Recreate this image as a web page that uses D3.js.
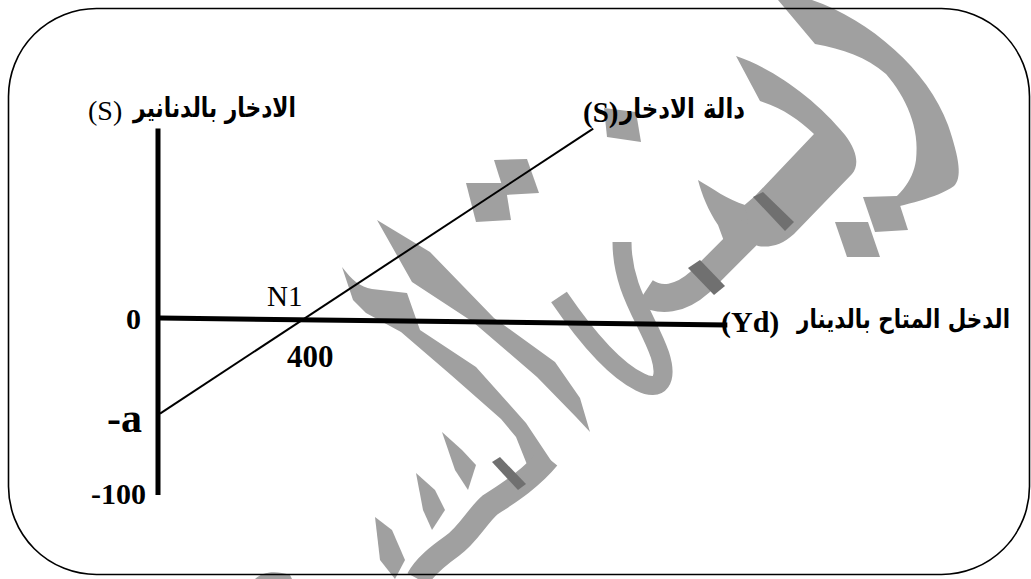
<!DOCTYPE html>
<html><head><meta charset="utf-8">
<script src="https://cdn.jsdelivr.net/npm/d3@7"></script>
<style>
html,body{margin:0;padding:0;background:#fff;}
svg{display:block;}
</style></head>
<body>
<svg id="chart" width="1031" height="579"></svg>
<script>
// ---- data ----
const savingsYd = [0, 1195];          // disposable income (dinars)
const savingsS = [-54, 107];          // savings function values
const incomeAxisYd = [0, 1565];
const incomeAxisS = [0, -4];
const savingsAxisS = [-100, 107];
const yTickValues = [0, -54, -100];
const yTickLabels = ["0", "-a", "-100"];
const xTickValues = [400];
const xTickLabels = ["400"];
const pointLabel = "N1";
const yTitleAr = "الادخار بالدنانير";
const yTitleSym = "(S)";
const lineTitleAr = "دالة الادخار";
const lineTitleSym = "(S)";
const xTitleAr = "الدخل المتاح بالدينار";
const xTitleSym = "(Yd)";

// decorative watermark outlines (background calligraphy)
const watermarkShapes = [
  "M778,0 L812,0 C870,20 928,70 948,125 C960,160 962,178 954,186 C937,198 905,205 878,211 C898,198 913,182 916,160 C920,128 906,97 886,74 C866,57 843,49 815,44 Z",
  "M863,197 L897,196 L908,230 L875,232 Z",
  "M835,222 L868,222 L880,257 L847,257 Z",
  "M736,56 C772,68 815,98 845,135 C858,152 859,166 852,174 L794,234 C782,245 770,248 758,246 L742,238 L733,215 L755,196 L814,134 C798,119 784,109 760,101 Z",
  "M698,180 C712,188 728,200 745,205 L750,238 L728,252 L718,225 C708,210 702,195 698,180 Z",
  "M604,108 L636,112 L641,142 L607,137 Z",
  "M494,160 L527,159 L539,193 L505,195 Z",
  "M466,183 L505,183 L511,220 L476,222 Z",
  "M377,220 L430,252 L494,318 L555,362 L580,398 L590,432 L576,417 L537,377 L473,322 L412,282 Z",
  "M342,267 C352,280 360,287 372,289 L407,293 L420,330 L476,367 L526,423 L552,462 L530,472 L516,437 L501,419 L451,375 L401,332 L366,313 L353,300 Z",
  "M442,432 L462,450 L476,465 L468,490 L455,470 Z",
  "M416,473 L435,490 L445,510 L432,530 L423,510 Z",
  "M375,517 L392,530 L405,560 L395,579 L380,560 Z",
  "M255,579 C262,572 275,570 290,575 L292,579 Z"
];
const watermarkStrokes = [
  {d: "M752,230 L700,282 C680,300 660,302 645,292", w: 28},
  {d: "M622,242 C622,290 648,320 660,355 C668,380 660,392 640,382 C615,370 585,335 559,297", w: 19},
  {d: "M548,458 C530,480 505,495 490,505 C478,515 468,535 452,546 C438,556 425,566 418,579", w: 24}
];
const darkBands = [
  "M753,197 L763,192 L794,222 L785,231 Z",
  "M688,268 L700,260 L725,286 L714,295 Z",
  "M492,462 L500,457 L526,484 L518,490 Z"
];

// ---- drawing ----
const svg = d3.select("#chart");
const x = d3.scaleLinear().domain([0, 400]).range([160, 305]);
const y = d3.scaleLinear().domain([-100, 0]).range([495, 318]);

// watermark
const wm = svg.append("g");
wm.selectAll("path.shape").data(watermarkShapes).join("path")
  .attr("class","shape").attr("d", d => d).attr("fill", "#a0a0a0");
wm.selectAll("path.stk").data(watermarkStrokes).join("path")
  .attr("class","stk").attr("d", d => d.d).attr("fill","none")
  .attr("stroke","#a0a0a0").attr("stroke-width", d => d.w).attr("stroke-linecap","butt");
wm.selectAll("path.band").data(darkBands).join("path")
  .attr("class","band").attr("d", d => d).attr("fill", "#707070");

// frame
svg.append("rect").attr("x", 8.5).attr("y", 8.5).attr("width", 1021).attr("height", 566)
  .attr("rx", 88).attr("ry", 88).attr("fill", "none").attr("stroke", "#000").attr("stroke-width", 1.6);

const line = d3.line().x(d => x(d[0])).y(d => y(d[1]));

// vertical (savings) axis
svg.append("path")
  .attr("d", d3.line().x(d => x(0) - 2).y(d => y(d))(savingsAxisS))
  .attr("stroke", "#000").attr("stroke-width", 5).attr("fill", "none");

// horizontal (income) axis
svg.append("path")
  .attr("d", line(d3.zip(incomeAxisYd, incomeAxisS)))
  .attr("stroke", "#000").attr("stroke-width", 5).attr("fill", "none");

// savings function
svg.append("path")
  .attr("d", line(d3.zip(savingsYd, savingsS)))
  .attr("stroke", "#000").attr("stroke-width", 2).attr("fill", "none");

const serif = "'Liberation Serif','Times New Roman',serif";
const arab = "'DejaVu Sans',sans-serif";

// y tick labels
const yLabelStyle = [
  {dx: -19, dy: 11, size: 30},
  {dx: -18, dy: 18, size: 42},
  {dx: -14, dy: 9, size: 30}
];
svg.selectAll("text.ytick").data(yTickValues).join("text")
  .attr("class","ytick")
  .attr("x", (d,i) => x(0) + yLabelStyle[i].dx)
  .attr("y", (d,i) => y(d) + yLabelStyle[i].dy)
  .attr("text-anchor","end")
  .attr("font-family", serif).attr("font-weight","bold")
  .attr("font-size", (d,i) => yLabelStyle[i].size)
  .text((d,i) => yTickLabels[i]);

// x tick label
svg.selectAll("text.xtick").data(xTickValues).join("text")
  .attr("class","xtick")
  .attr("x", d => x(d) - 18).attr("y", y(0) + 49)
  .attr("font-family", serif).attr("font-weight","bold").attr("font-size", 31)
  .text((d,i) => xTickLabels[i]);

// N1 point label
svg.append("text")
  .attr("x", x(400) - 38).attr("y", y(0) - 12)
  .attr("font-family", serif).attr("font-size", 29)
  .text(pointLabel);

// Arabic titles: right-anchored, horizontally fitted to the reference width
function arabicTitle(txt, right, baseline, width, size) {
  const t = svg.append("text")
    .attr("x", 0).attr("y", 0).attr("text-anchor", "end")
    .attr("font-family", arab).attr("font-weight", "bold").attr("font-size", size)
    .text(txt);
  const w = t.node().getComputedTextLength();
  const sx = Math.min(1.5, width / w);
  t.attr("transform", `translate(${right},${baseline}) scale(${sx},1)`);
  return t;
}

// y title
arabicTitle(yTitleAr, 296, 117, 163, 27);
svg.append("text").attr("x", 88).attr("y", 120)
  .attr("font-family", serif).attr("font-size", 28)
  .text(yTitleSym);

// savings function title
arabicTitle(lineTitleAr, 745, 118, 125, 27);
svg.append("text").attr("x", 583).attr("y", 122)
  .attr("font-family", serif).attr("font-weight","bold").attr("font-size", 29)
  .text(lineTitleSym);

// x title
arabicTitle(xTitleAr, 1010, 328, 213, 26);
svg.append("text").attr("x", 721).attr("y", 332)
  .attr("font-family", serif).attr("font-weight","bold").attr("font-size", 30)
  .text(xTitleSym);
</script>
</body></html>
